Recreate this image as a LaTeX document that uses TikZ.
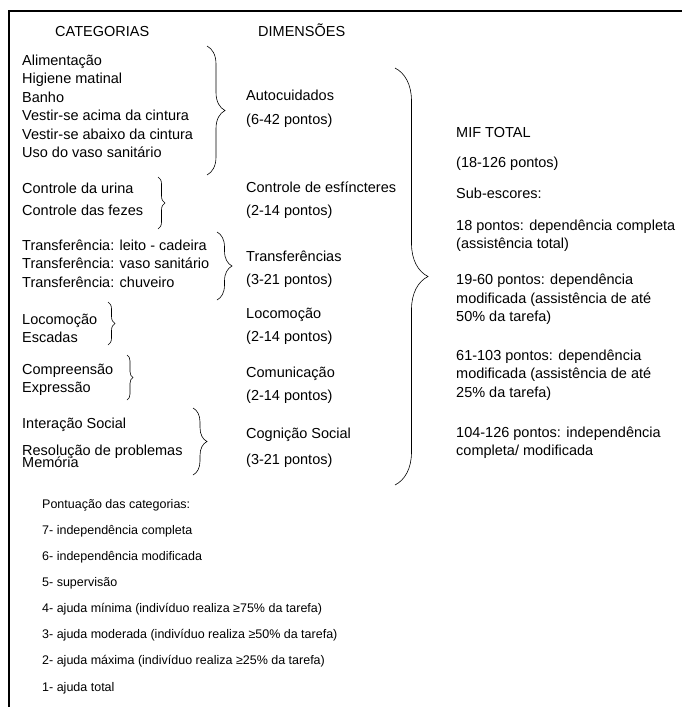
\documentclass[tikz,border=0pt]{standalone}
\usepackage{fontspec}
\setmainfont{Liberation Sans}
\usepackage{tikz}
\usetikzlibrary{positioning,decorations.pathreplacing}

\begin{document}
\begin{tikzpicture}[x=1pt, y=-1pt,
  tx/.style={anchor=base west, inner sep=0pt, align=left, font=\fontsize{14.5}{18.5}\selectfont},
  pt/.style={anchor=base west, inner sep=0pt, align=left, font=\fontsize{12.5}{26.1}\selectfont},
  acc/.style={decorate, decoration={brace, amplitude=#1}, line width=0.6pt}]

\useasboundingbox (0,0) rectangle (682,707);

% cadre
\draw[line width=1.3pt] (9,11) -- (682,11);
\draw[line width=2pt] (9,10.35) -- (9,707);

% ── en-têtes ──
\node[tx] (hcat) at (55,36) {CATEGORIAS};
\node[tx] (hdim) at (258,36) {DIMENSÕES};

% ── categorias (base = dernière ligne) ──
\node[tx] (c1) at (22,157.5) {Alimentação\\ Higiene matinal\\ Banho\\ Vestir-se acima da cintura\\
  Vestir-se abaixo da cintura\\ Uso do vaso sanitário};
\node[tx] (c2) at (22,215) {Controle da urina\\[3.5pt] Controle das fezes};
\node[tx] (c3) at (22,287) {Transferência: leito - cadeira\\ Transferência: vaso sanitário\\ Transferência: chuveiro};
\node[tx] (c4) at (22,342) {Locomoção\\[-0.5pt] Escadas};
\node[tx] (c5) at (22,392) {Compreensão\\[-0.5pt] Expressão};
\node[tx] (c6) at (22,467) {Interação Social\\[8.5pt] Resolução de problemas\\[-6.5pt] Memória};

% ── chaves ──
\coordinate (a1) at (207,46);  \coordinate (b1) at (207,175);
\coordinate (a2) at (158,177); \coordinate (b2) at (158,229);
\coordinate (a3) at (217,232); \coordinate (b3) at (217,300);
\coordinate (a4) at (108,302); \coordinate (b4) at (108,345);
\coordinate (a5) at (127,355); \coordinate (b5) at (127,400);
\coordinate (a6) at (193,408); \coordinate (b6) at (193,475);
\coordinate (aT) at (395,68);  \coordinate (bT) at (395,485);
\draw[acc=18pt] (a1) -- (b1);
\draw[acc=7pt] (a2) -- (b2);
\draw[acc=15pt] (a3) -- (b3);
\draw[acc=7pt] (a4) -- (b4);
\draw[acc=6pt] (a5) -- (b5);
\draw[acc=14pt] (a6) -- (b6);
\draw[acc=33pt] (aT) -- (bT);

% ── dimensões ──
\node[tx] (d1) at (246,124) {Autocuidados\\[5pt] (6-42 pontos)};
\node[tx] (d2) at (246,215.5) {Controle de esfíncteres\\[5pt] (2-14 pontos)};
\node[tx] (d3) at (246,284.5) {Transferências\\[5pt] (3-21 pontos)};
\node[tx] (d4) at (246,341.5) {Locomoção\\[5pt] (2-14 pontos)};
\node[tx] (d5) at (246,400.5) {Comunicação\\[5pt] (2-14 pontos)};
\node[tx] (d6) at (246,464.5) {Cognição Social\\[8pt] (3-21 pontos)};

% ── MIF total ──
\node[tx] (mif) at (456,455.5) {MIF TOTAL\\[12pt] (18-126 pontos)\\[12pt] Sub-escores:\\[13.5pt]
  18 pontos: dependência completa\\ (assistência total)\\[17.5pt]
  19-60 pontos: dependência\\ modificada (assistência de até\\ 50\% da tarefa)\\[20pt]
  61-103 pontos: dependência\\ modificada (assistência de até\\ 25\% da tarefa)\\[21.5pt]
  104-126 pontos: independência\\ completa/ modificada};

% ── pontuação ──
\node[pt] (pont) at (42,691) {Pontuação das categorias:\\ 7- independência completa\\ 6- independência modificada\\
  5- supervisão\\ 4- ajuda mínima (indivíduo realiza ≥75\% da tarefa)\\ 3- ajuda moderada (indivíduo realiza ≥50\% da tarefa)\\
  2- ajuda máxima (indivíduo realiza ≥25\% da tarefa)\\ 1- ajuda total};

\end{tikzpicture}
\end{document}
